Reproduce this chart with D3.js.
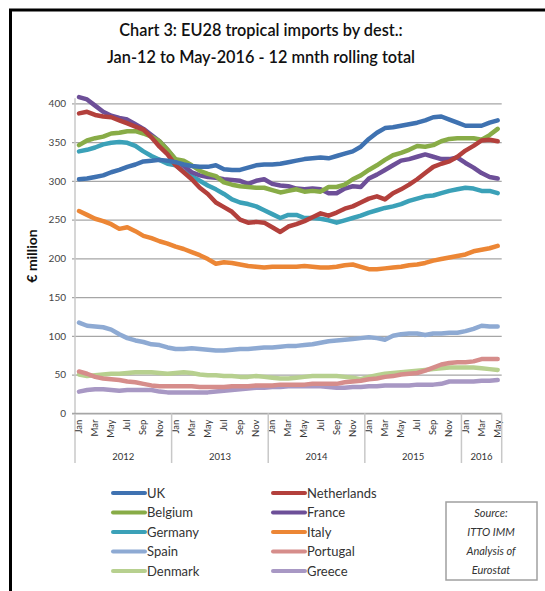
<!DOCTYPE html>
<html><head><meta charset="utf-8">
<script src="https://cdn.jsdelivr.net/npm/d3@7/dist/d3.min.js"></script>
<style>
html,body{margin:0;padding:0;background:#fff;}
svg{display:block;font-family:Lato,"Open Sans",sans-serif;}
</style></head>
<body>
<svg id="chart" width="545" height="591"></svg>
<script>
// ---- DATA ----
const monthNames = ["Jan","Feb","Mar","Apr","May","Jun","Jul","Aug","Sep","Oct","Nov","Dec"];
const years = ["2012","2013","2014","2015","2016"];
const monthsPerYear = [12,12,12,12,5];
const yTicks = [0,50,100,150,200,250,300,350,400];

const seriesNames = ["UK","Netherlands","Belgium","France","Germany","Italy","Spain","Portugal","Denmark","Greece"];
const seriesColors = ["#3f72b1","#b3403c","#88ac47","#6d4f98","#3ba1b8","#ec8635","#8eaad3","#d68d8b","#b7d08f","#a898c4"];

const UK = [302,303,305,307,311,314,318,321,325,326,327,326,324,321,319,318,318,320,315,314,314,317,320,321,321,322,324,326,328,329,330,329,332,335,338,344,354,362,368,369,371,373,375,378,382,383,379,375,371,371,371,375,378];
const Netherlands = [387,389,385,383,382,378,374,370,366,356,344,334,320,311,302,291,283,272,266,260,250,246,247,246,240,234,241,244,248,253,258,255,259,264,267,272,277,280,276,284,289,295,302,310,318,322,325,331,339,345,352,353,351];
const Belgium = [346,352,355,357,361,362,364,364,361,357,351,340,328,326,320,313,309,306,298,295,293,292,291,291,288,285,287,289,286,287,286,292,292,295,302,307,314,320,327,333,336,340,345,344,346,351,354,355,355,355,353,359,367];
const France = [408,405,397,389,384,381,379,373,367,359,351,340,327,319,311,307,305,304,302,301,300,296,300,302,296,294,293,290,289,290,289,284,284,290,293,292,303,308,314,320,326,328,331,334,331,328,328,330,323,317,310,305,303];
const Germany = [338,340,343,347,349,350,349,345,338,332,327,322,320,312,306,300,294,289,283,276,272,270,267,262,257,252,256,256,252,252,251,249,246,249,252,255,259,262,265,267,270,274,277,280,281,284,287,289,291,290,287,287,284];
const Italy = [261,256,251,248,244,238,240,235,229,226,222,219,215,212,208,204,199,193,195,194,192,190,189,188,189,189,189,189,190,189,188,188,189,191,192,189,186,186,187,188,189,191,192,194,197,199,201,203,205,209,211,213,216];
const Spain = [117,113,112,111,108,102,97,94,92,89,88,85,83,83,84,83,82,81,81,82,83,83,84,85,85,86,87,87,88,89,91,93,94,95,96,97,98,97,95,100,102,103,103,101,103,103,104,104,106,109,113,112,112];
const Portugal = [54,51,47,45,44,43,41,40,38,36,35,35,35,35,35,34,34,34,34,35,35,35,36,36,36,37,37,37,37,38,38,38,38,40,41,42,44,45,47,48,50,51,52,55,59,63,65,66,66,67,70,70,70];
const Denmark = [50,48,49,50,51,51,52,53,53,53,52,51,52,53,52,50,49,49,48,48,47,47,48,47,46,45,45,46,47,48,48,48,48,47,46,44,47,49,51,52,53,54,55,56,57,58,59,59,59,59,58,57,56];
const Greece = [28,30,31,31,30,29,30,30,30,30,28,27,27,27,27,27,27,28,29,30,31,32,33,33,34,34,35,35,35,35,35,34,33,33,34,34,35,35,36,36,36,36,37,37,37,38,41,41,41,41,42,42,43];
const seriesValues = [UK,Netherlands,Belgium,France,Germany,Italy,Spain,Portugal,Denmark,Greece];

// categories built from month/year lists
const categories = [];
years.forEach((yv,yi)=>{ for(let m=0;m<monthsPerYear[yi];m++) categories.push({key:yv+"-"+m, month:monthNames[m], year:yv, m:m}); });

// ---- LAYOUT ----
const svg = d3.select("#chart");
const pL = 75, pR = 501.7, pT = 103.3, pB = 413.3;

// outer frame
svg.append("rect").attr("x",10.5).attr("y",10).attr("width",560).attr("height",600)
  .attr("fill","none").attr("stroke","#000").attr("stroke-width",3);

// title
svg.append("text").attr("x",261).attr("y",36).attr("text-anchor","middle")
  .attr("font-size",16.3).attr("font-weight",600).attr("fill","#111")
  .text("Chart 3: EU28 tropical imports by dest.:");
svg.append("text").attr("x",261).attr("y",63).attr("text-anchor","middle")
  .attr("font-size",16.3).attr("font-weight",600).attr("fill","#111")
  .text("Jan-12 to May-2016 - 12 mnth rolling total");

const x = d3.scaleBand().domain(categories.map(d=>d.key)).range([pL,pR]).padding(0);
const y = d3.scaleLinear().domain([0,400]).range([pB,pT]);

// gridlines + y labels
const yAxis = d3.axisLeft(y).tickValues(yTicks).tickSize(-(pR-pL)).tickPadding(9);
const gy = svg.append("g").attr("transform",`translate(${pL},0)`).call(yAxis);
gy.select(".domain").remove();
gy.selectAll(".tick line").attr("stroke","#a6a6a6").attr("stroke-width",1.3).attr("x1",-3);
gy.selectAll(".tick text").attr("font-size",10).attr("fill","#444").attr("font-family","Lato,sans-serif");

// y-axis line (extended down to year labels)
svg.append("line").attr("x1",pL).attr("x2",pL).attr("y1",pT-5).attr("y2",463)
  .attr("stroke","#c8c8c8").attr("stroke-width",1.5);
// x axis line
svg.append("line").attr("x1",pL-3).attr("x2",pR).attr("y1",pB).attr("y2",pB)
  .attr("stroke","#a6a6a6").attr("stroke-width",1.3);

// month labels (every other month)
const xAxis = d3.axisBottom(x).tickSize(0).tickFormat(k=>{const c=categories.find(d=>d.key===k);return c.m%2===0?c.month:"";});
const gx = svg.append("g").attr("transform",`translate(0,${pB})`).call(xAxis);
gx.select(".domain").remove();
gx.selectAll(".tick text").attr("font-size",9.5).attr("fill","#333")
  .attr("transform","rotate(-90)").attr("text-anchor","end")
  .attr("dx","-0.35em").attr("dy","0.32em").attr("y",0).attr("x",-3)
  .attr("font-family","Lato,sans-serif");

// year separators and labels
let start = 0;
years.forEach((yr,yi)=>{
  const firstKey = categories[start].key;
  const lastKey = categories[start+monthsPerYear[yi]-1].key;
  const x0 = x(firstKey), x1 = x(lastKey)+x.bandwidth();
  svg.append("line").attr("x1",x1).attr("x2",x1).attr("y1",pB).attr("y2",463)
    .attr("stroke","#c8c8c8").attr("stroke-width",1.5);
  svg.append("text").attr("x",(x0+x1)/2).attr("y",460).attr("text-anchor","middle")
    .attr("font-size",9.5).attr("fill","#333").text(yr);
  start += monthsPerYear[yi];
});

// y axis title
svg.append("text").attr("transform","translate(37,256) rotate(-90)").attr("text-anchor","middle")
  .attr("font-size",14).attr("font-weight",700).attr("fill","#111").text("€ million");

// lines
const line = d3.line().x((d,i)=>x(categories[i].key)+x.bandwidth()/2).y(d=>y(d)).curve(d3.curveLinear);
const drawOrder = [9,8,7,6,5,4,3,2,1,0];
drawOrder.forEach(si=>{
  svg.append("path").datum(seriesValues[si]).attr("d",line)
    .attr("fill","none").attr("stroke",seriesColors[si]).attr("stroke-width",4.5)
    .attr("stroke-linejoin","round").attr("stroke-linecap","round");
});

// legend
const legCols = [113,273], legY0 = 493, legDY = 19.5;
seriesNames.forEach((n,i)=>{
  const col = i%2, row = Math.floor(i/2);
  const lx = legCols[col], ly = legY0 + row*legDY;
  svg.append("line").attr("x1",lx).attr("x2",lx+32).attr("y1",ly).attr("y2",ly)
    .attr("stroke",seriesColors[i]).attr("stroke-width",4).attr("stroke-linecap","round");
  svg.append("text").attr("x",lx+34).attr("y",ly+4.7).attr("font-size",13).attr("fill","#333").text(n);
});

// source box
svg.append("rect").attr("x",446).attr("y",502).attr("width",91).attr("height",78)
  .attr("fill","#fff").attr("stroke","#a0a0a0").attr("stroke-width",1.5);
const srcLines = ["Source:","ITTO IMM","Analysis of","Eurostat"];
srcLines.forEach((t,i)=>{
  svg.append("text").attr("x",491).attr("y",517+i*19).attr("text-anchor","middle")
    .attr("font-size",11).attr("font-style","italic").attr("fill","#333").text(t);
});
</script>
</body></html>
